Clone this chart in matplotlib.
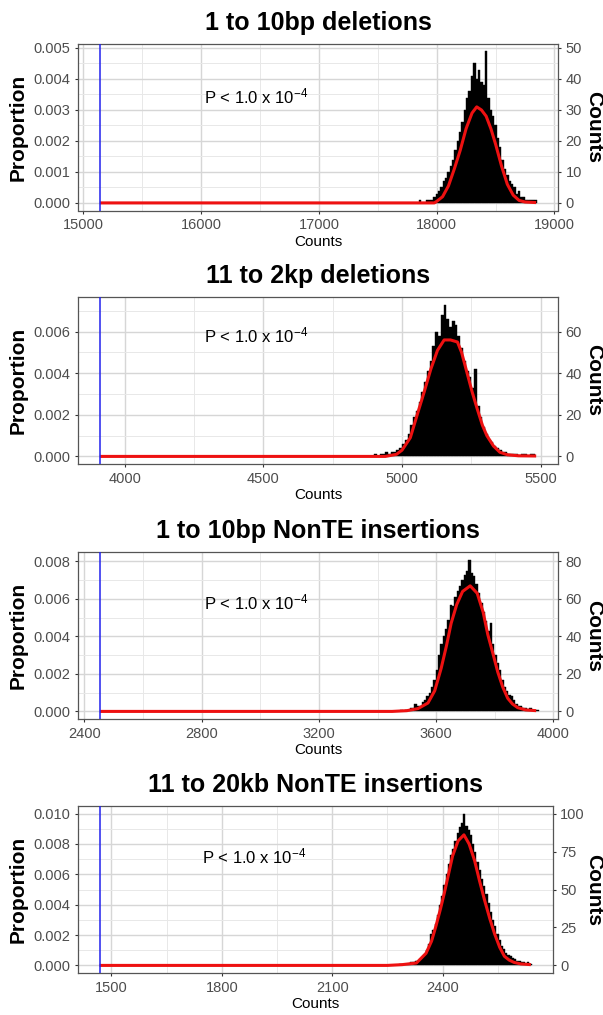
import numpy as np
import matplotlib
matplotlib.use("Agg")
import matplotlib.pyplot as plt
from matplotlib.ticker import MultipleLocator

plt.rcParams['font.family'] = ['Liberation Sans', 'DejaVu Sans']
plt.rcParams['mathtext.fontset'] = 'custom'
plt.rcParams['mathtext.rm'] = 'Liberation Sans'
plt.rcParams['mathtext.default'] = 'regular'

n_perm = 10000

titles = ["1 to 10bp deletions", "11 to 2kp deletions",
          "1 to 10bp NonTE insertions", "11 to 20kb NonTE insertions"]
observed = [15139, 3910, 2453, 1468]

# histogram bins (left edge of first bin, bin width) and counts per bin
bin_start = [17850, 4900, 3470, 2276]
bin_width = [20, 10, 8, 6]
counts_del_small = [1, 0, 0, 1, 1, 1, 2, 3, 4, 5, 7, 8, 10, 12, 14, 17, 20, 23, 26, 30,
                    34, 36, 41, 45, 40, 43, 39, 38, 49, 34, 30, 28, 25, 21, 18, 14, 11, 9, 7, 6,
                    5, 3, 4, 2, 2, 1, 1, 1, 1, 1]
counts_del_large = [1, 0, 1, 1, 2, 1, 2, 2, 3, 4, 6, 8, 11, 15, 19, 22, 26, 31, 36, 41,
                    46, 53, 60, 58, 68, 73, 66, 62, 65, 63, 58, 52, 46, 41, 38, 33, 42, 24, 19, 14,
                    11, 8, 7, 5, 4, 3, 2, 2, 1, 1, 1, 1, 0, 1, 1, 0, 1, 1]
counts_ins_small = [0, 1, 0, 1, 1, 2, 2, 4, 3, 3, 5, 6, 8, 10, 13, 17, 22, 30, 36, 40,
                    44, 49, 57, 56, 61, 64, 67, 70, 73, 75, 81, 74, 72, 68, 63, 58, 53, 48, 43, 47,
                    36, 30, 26, 22, 17, 13, 11, 9, 8, 6, 4, 3, 3, 2, 2, 1, 2, 1, 1, 1]
counts_ins_large = [0, 1, 1, 0, 1, 1, 2, 2, 3, 3, 4, 5, 7, 10, 14, 21, 23, 27, 33, 40,
                    46, 53, 60, 67, 73, 77, 82, 87, 91, 94, 100, 92, 89, 86, 80, 75, 68, 63, 57, 52,
                    47, 41, 35, 30, 26, 21, 17, 13, 11, 8, 7, 6, 5, 4, 3, 3, 2, 2, 1, 2, 1]
hist_counts = [counts_del_small, counts_del_large, counts_ins_small, counts_ins_large]

# density curves (x, expected count per unit)
dens_x = [
    [15139, 17980, 18000, 18050, 18100, 18150, 18200, 18250, 18300, 18340, 18380,
     18420, 18460, 18500, 18550, 18600, 18650, 18700, 18750, 18800, 18845],
    [3910, 4940, 4980, 5000, 5030, 5057, 5080, 5104, 5128, 5152, 5175, 5200,
     5215, 5235, 5253, 5271, 5290, 5306, 5330, 5353, 5380, 5420, 5484],
    [2453, 3450, 3500, 3538, 3572, 3595, 3617, 3635, 3651, 3670, 3690, 3716,
     3740, 3760, 3776, 3795, 3810, 3827, 3844, 3860, 3878, 3905, 3941],
    [1468, 2250, 2290, 2329, 2355, 2370, 2382, 2394, 2405, 2416, 2427, 2442,
     2458, 2472, 2487, 2500, 2514, 2528, 2541, 2555, 2568, 2581, 2594, 2612, 2640],
]
dens_y = [
    [0, 0, 0.5, 2, 5.5, 11, 17, 24, 29, 31, 30, 28, 24, 19, 12, 6, 2.5, 0.8, 0.3, 0.2, 0.1],
    [0, 0, 1, 3, 9, 21, 31, 42, 51, 56, 56, 55, 50, 40, 31, 23, 15, 10, 5, 2, 0.8, 0.3, 0.2],
    [0, 0, 0.4, 1.5, 4.5, 11, 23, 35, 47, 57, 64, 67, 63, 53, 41, 30, 21, 13, 7, 4, 2, 0.8, 0.4],
    [0, 0, 0.5, 1.6, 8, 16, 26, 37, 48, 60, 72, 82, 86, 80, 69, 56, 43, 31, 21, 12, 6,
     3.5, 2, 1, 0.5],
]

x_ticks = [[15000, 16000, 17000, 18000, 19000], [4000, 4500, 5000, 5500],
           [2400, 2800, 3200, 3600, 4000], [1500, 1800, 2100, 2400]]
y_step = [0.001, 0.002, 0.002, 0.002]
count_ticks = [[0, 10, 20, 30, 40, 50], [0, 20, 40, 60], [0, 20, 40, 60, 80],
               [0, 25, 50, 75, 100]]
p_label_y = [0.68, 0.77, 0.70, 0.70]

W, H = 603, 1015
fig = plt.figure(figsize=(W / 100, H / 100), dpi=100)

box_tops = [43.5, 297, 552, 806]
box_rights = [558, 558, 558, 552.5]
box_left = 78
box_h = 167

for i in range(4):
    rect = [box_left / W, 1 - (box_tops[i] + box_h) / H,
            (box_rights[i] - box_left) / W, box_h / H]
    ax = fig.add_axes(rect)
    ax.set_axisbelow(True)

    c = np.array(hist_counts[i]) / n_perm
    edges = bin_start[i] + bin_width[i] * np.arange(len(c))
    ax.bar(edges, c, width=bin_width[i], align='edge', color='black',
           edgecolor='black', linewidth=0.3, zorder=2)
    ax.plot(dens_x[i], np.array(dens_y[i]) / n_perm, color='#EE1111', lw=2.2,
            solid_capstyle='butt', zorder=3)
    ax.axvline(observed[i], color='#2222EE', lw=1.1, zorder=4)

    lo, hi = observed[i], dens_x[i][-1]
    pad = 0.05 * (hi - lo)
    ax.set_xlim(lo - pad, hi + pad)
    ymax = c.max()
    ax.set_ylim(-0.05 * ymax, 1.05 * ymax)

    xs = x_ticks[i][1] - x_ticks[i][0]
    ax.set_xticks(x_ticks[i])
    ax.xaxis.set_minor_locator(MultipleLocator(xs / 2))
    ax.yaxis.set_major_locator(MultipleLocator(y_step[i]))
    ax.yaxis.set_minor_locator(MultipleLocator(y_step[i] / 2))
    ax.yaxis.set_major_formatter(plt.FuncFormatter(lambda v, p: f"{v:.3f}"))
    ax.grid(which='major', color='#D6D6D6', lw=1.0)
    ax.grid(which='minor', color='#E8E8E8', lw=0.7)
    ax.tick_params(which='minor', length=0)
    ax.tick_params(which='major', length=2.5, width=0.8, color='#333333',
                   labelcolor='#4D4D4D', labelsize=10.5, pad=3)
    for s in ax.spines.values():
        s.set_color('#555555')
        s.set_linewidth(0.9)

    ax.set_title(titles[i], fontsize=18, fontweight='bold', pad=10)
    ax.set_ylabel("Proportion", fontsize=15, fontweight='bold', va='center')
    ax.yaxis.set_label_coords(-(box_left - 18) / (box_rights[i] - box_left), 0.5)
    ax.set_xlabel("Counts", fontsize=11, va='center')
    ax.xaxis.set_label_coords(0.5, -31 / box_h)

    ax.text(0.262, p_label_y[i], r"P < 1.0 x 10$^{-4}$", transform=ax.transAxes,
            ha='left', va='center', fontsize=12)

    sec = ax.secondary_yaxis('right', functions=(lambda y: y * n_perm, lambda v: v / n_perm))
    sec.set_yticks(count_ticks[i])
    sec.tick_params(length=2.5, width=0.8, color='#333333', labelcolor='#4D4D4D',
                    labelsize=10.5, pad=3)
    sec.spines['right'].set_visible(False)
    fig.text(594 / W, 1 - (box_tops[i] + box_h / 2) / H, "Counts", fontsize=15,
             fontweight='bold', rotation=270, ha='center', va='center')

fig.savefig("out.png", dpi=100)
